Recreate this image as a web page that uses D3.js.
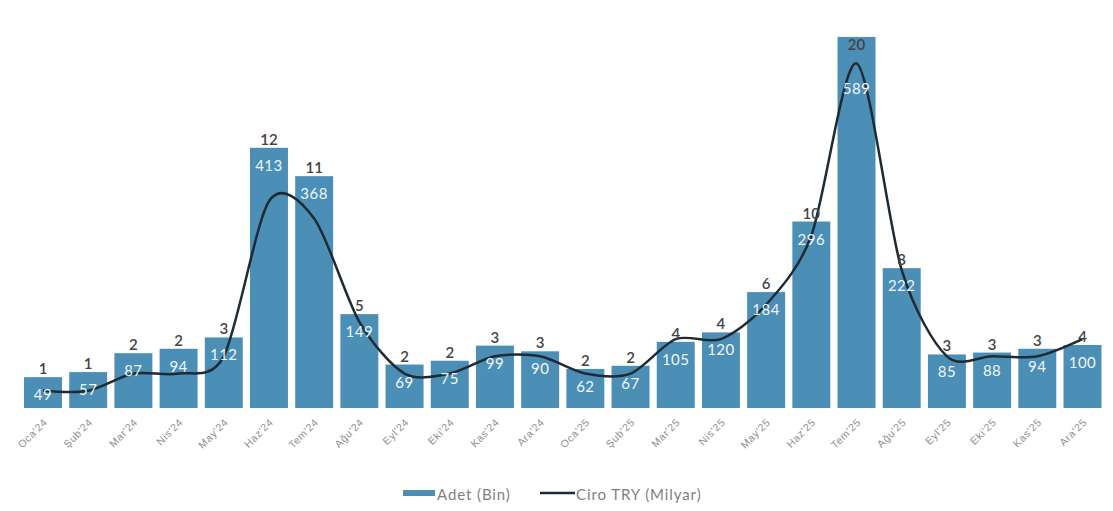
<!DOCTYPE html>
<html>
<head>
<meta charset="utf-8">
<script src="https://cdn.jsdelivr.net/npm/d3@7"></script>
<style>
  html, body { margin: 0; padding: 0; background: #fff; }
  svg { display: block; font-family: Lato, "Open Sans", sans-serif; }
</style>
</head>
<body>
<svg id="chart" width="1113" height="511"></svg>
<script>
// Monthly figures, Jan 2024 – Dec 2025
const months = ["Oca'24","Şub'24","Mar'24","Nis'24","May'24","Haz'24","Tem'24","Ağu'24","Eyl'24","Eki'24","Kas'24","Ara'24",
                "Oca'25","Şub'25","Mar'25","Nis'25","May'25","Haz'25","Tem'25","Ağu'25","Eyl'25","Eki'25","Kas'25","Ara'25"];
// Units sold (thousands)
const adet = [49,57,87,94,112,413,368,149,69,75,99,90,62,67,105,120,184,296,589,222,85,88,94,100];
// Turnover in TRY (billions)
const ciro = [1,1,2,2,3,12,11,5,2,2,3,3,2,2,4,4,6,10,20,8,3,3,3,4];

const legendLabels = ["Adet (Bin)", "Ciro TRY (Milyar)"];

const barColor = "#4b8fb6";
const lineColor = "#1f2b34";

const svg = d3.select("#chart");
const baseY = 408, topY = 30;

const x = d3.scaleBand()
  .domain(months)
  .range([20.4, 1105.1])
  .paddingInner(0.16)
  .paddingOuter(0.08);

const yBar = d3.scaleLinear().domain([0, 600]).range([baseY, topY]);
const yLine = d3.scaleLinear().domain([0, 22]).range([baseY, topY - 1]);

// Bars
svg.append("g")
  .selectAll("rect")
  .data(months)
  .join("rect")
  .attr("x", d => x(d))
  .attr("y", (d, i) => yBar(adet[i]))
  .attr("width", x.bandwidth())
  .attr("height", (d, i) => baseY - yBar(adet[i]))
  .attr("fill", barColor);

// Category axis with rotated labels
const xAxis = svg.append("g")
  .attr("transform", `translate(0,${baseY})`)
  .call(d3.axisBottom(x).tickSize(0).tickPadding(0));
xAxis.select(".domain").remove();
xAxis.selectAll("text")
  .attr("fill", "#8f8f8f")
  .attr("font-size", 10.5)
  .attr("letter-spacing", 0.6)
  .attr("text-anchor", "end")
  .attr("dy", 0)
  .attr("transform", "translate(5,15) rotate(-45)");

// Turnover line, smoothed
const line = d3.line()
  .x((d, i) => x(months[i]) + x.bandwidth() / 2)
  .y(d => yLine(d))
  .curve(d3.curveCardinal.tension(0.15));

svg.append("path")
  .datum(ciro)
  .attr("d", line)
  .attr("fill", "none")
  .attr("stroke", lineColor)
  .attr("stroke-width", 2.5);

// Value labels
const labelTop = 44;
const labels = svg.append("g").attr("font-size", 15);
months.forEach((m, i) => {
  const cx = x(m) + x.bandwidth() / 2;
  const top = yBar(adet[i]);
  const ciroY = Math.max(top - 9, labelTop);
  const adetY = ciroY === labelTop ? ciroY + 44 : top + 17;
  labels.append("text")
    .attr("x", cx).attr("y", ciroY)
    .attr("text-anchor", "middle")
    .attr("dominant-baseline", "central")
    .attr("fill", "#444")
    .attr("font-weight", 600)
    .text(ciro[i]);
  labels.append("text")
    .attr("x", cx).attr("y", adetY)
    .attr("text-anchor", "middle")
    .attr("dominant-baseline", "central")
    .attr("fill", "#ffffff")
    .attr("opacity", 0.92)
    .attr("letter-spacing", 0.5)
    .text(adet[i]);
});

// Legend
const legend = svg.append("g").attr("font-size", 15).attr("letter-spacing", 0.9).attr("fill", "#7f7f7f");
legend.append("rect")
  .attr("x", 403).attr("y", 490).attr("width", 32).attr("height", 6)
  .attr("fill", barColor);
legend.append("text")
  .attr("x", 437).attr("y", 494).attr("dominant-baseline", "central")
  .text(legendLabels[0]);
legend.append("line")
  .attr("x1", 540).attr("x2", 575).attr("y1", 493).attr("y2", 493)
  .attr("stroke", lineColor).attr("stroke-width", 2.5);
legend.append("text")
  .attr("x", 576).attr("y", 494).attr("dominant-baseline", "central")
  .text(legendLabels[1]);
</script>
</body>
</html>
